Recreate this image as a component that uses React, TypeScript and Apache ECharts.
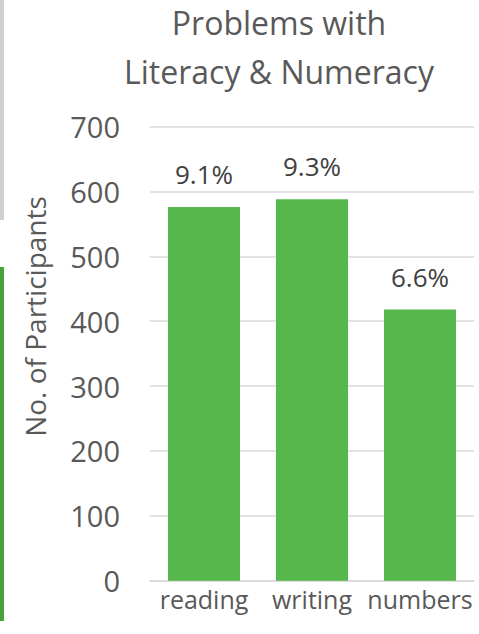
import React, { useEffect, useRef } from "react";
import * as echarts from "echarts";

const categories = ["reading", "writing", "numbers"];
const participants = [576, 588, 418];
const percentLabels = ["9.1%", "9.3%", "6.6%"];
const yTicks = { min: 0, max: 700, interval: 100 };
const titleLines = ["Problems with", "Literacy & Numeracy"];
const yAxisTitle = "No. of Participants";

export default function App() {
  const ref = useRef<HTMLDivElement>(null);
  useEffect(() => {
    if (!ref.current) return;
    const chart = echarts.init(ref.current, null, { renderer: "svg" });
    const font = "'Open Sans', 'Noto Sans', sans-serif";
    chart.setOption({
      animation: false,
      backgroundColor: "#ffffff",
      textStyle: { fontFamily: font },
      title: {
        text: titleLines.join("\n"),
        left: 274,
        top: -7,
        textAlign: "center",
        textStyle: {
          fontFamily: font,
          fontSize: 32,
          fontWeight: "normal",
          color: "#595959",
          lineHeight: 49,
        },
      },
      graphic: [
        { type: "rect", shape: { x: 0, y: 0, width: 4, height: 220 }, style: { fill: "#d0d0d0" } },
        { type: "rect", shape: { x: 0, y: 267, width: 4, height: 354 }, style: { fill: "#4aa23f" } },
        {
          type: "text",
          x: 35,
          y: 316.5,
          rotation: Math.PI / 2,
          style: {
            text: yAxisTitle,
            fontSize: 28,
            fontFamily: font,
            fill: "#595959",
            textAlign: "center",
            textVerticalAlign: "middle",
          },
        },
      ],
      grid: { left: 150, right: 5, top: 126.6, bottom: 53.3, containLabel: false },
      xAxis: {
        type: "category",
        data: categories,
        axisLine: { show: true, lineStyle: { color: "#d9d9d9", width: 1.5 } },
        axisTick: { show: false },
        axisLabel: {
          color: "#595959",
          fontSize: 25,
          fontFamily: font,
          margin: 6,
          interval: 0,
          hideOverlap: false,
        },
      },
      yAxis: {
        type: "value",
        min: yTicks.min,
        max: yTicks.max,
        interval: yTicks.interval,
        axisLine: { show: false },
        axisTick: { show: false },
        splitLine: { lineStyle: { color: "#d9d9d9", width: 1.5 } },
        axisLabel: { color: "#595959", fontSize: 29, fontFamily: font, margin: 30 },
      },
      series: [
        {
          type: "bar",
          data: participants,
          barWidth: 72,
          itemStyle: { color: "#56b84c" },
          label: {
            show: true,
            position: "top",
            distance: 20,
            color: "#404040",
            fontSize: 26,
            fontFamily: font,
            formatter: (p: any) => percentLabels[p.dataIndex],
          },
        },
      ],
    });
    return () => chart.dispose();
  }, []);
  return (
    <div
      ref={ref}
      style={{ position: "fixed", left: 0, top: 0, width: 479, height: 634 }}
    />
  );
}
